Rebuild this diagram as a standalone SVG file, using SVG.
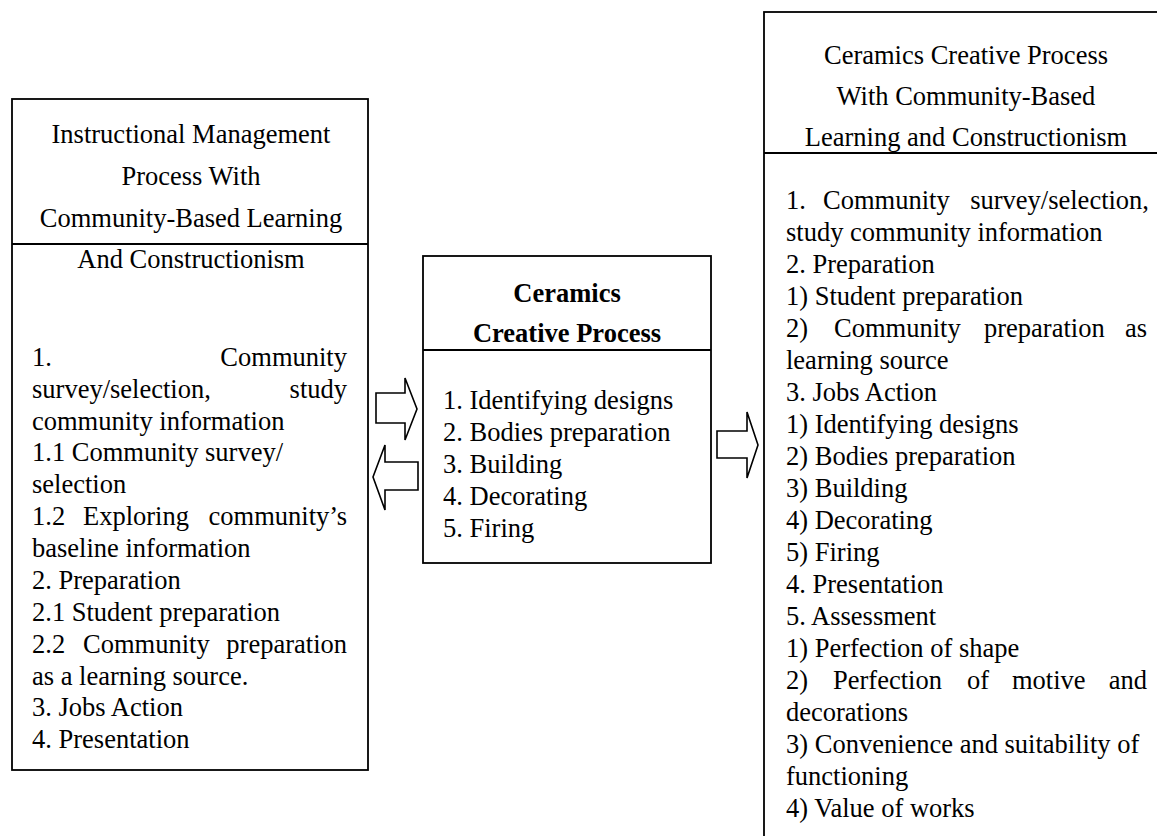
<svg xmlns="http://www.w3.org/2000/svg" width="1157" height="836" viewBox="0 0 1157 836">
<style>
text{font-family:"Liberation Serif","Times New Roman",serif;font-size:26.5px;fill:#000}
.c{text-anchor:middle}
.e{text-anchor:end}
.b{font-weight:bold}
.box{fill:none;stroke:#000;stroke-width:1.8}
.arrow{fill:#fff;stroke:#000;stroke-width:1.6;stroke-linejoin:miter}
</style>
<rect width="1157" height="836" fill="#fff"/>
<g id="node-left">
<rect class="box" x="12" y="99" width="356" height="671"/>
<line class="box" x1="12" y1="244" x2="368" y2="244"/>
<text class="c" x="191" y="143">Instructional Management</text>
<text class="c" x="191" y="185">Process With</text>
<text class="c" x="191" y="227">Community-Based Learning</text>
<text class="c" x="191" y="268">And Constructionism</text>
<text x="32" y="366">1.</text><text class="e" x="347" y="366">Community</text>
<text x="32" y="398">survey/selection,</text><text class="e" x="347" y="398">study</text>
<text x="32" y="430">community information</text>
<text x="32" y="461">1.1 Community survey/</text>
<text x="32" y="493">selection</text>
<text x="32" y="525">1.2</text><text x="83" y="525">Exploring</text><text class="e" x="347" y="525">community’s</text>
<text x="32" y="557">baseline information</text>
<text x="32" y="589">2. Preparation</text>
<text x="32" y="621">2.1 Student preparation</text>
<text x="32" y="653">2.2</text><text x="83" y="653">Community</text><text class="e" x="347" y="653">preparation</text>
<text x="32" y="685">as a learning source.</text>
<text x="32" y="716">3. Jobs Action</text>
<text x="32" y="748">4. Presentation</text>
</g>
<g id="node-middle">
<rect class="box" x="423" y="256" width="288" height="307"/>
<line class="box" x1="423" y1="350" x2="711" y2="350"/>
<text class="c b" x="567" y="302">Ceramics</text>
<text class="c b" x="567" y="342">Creative Process</text>
<text x="443" y="409">1. Identifying designs</text>
<text x="443" y="441">2. Bodies preparation</text>
<text x="443" y="473">3. Building</text>
<text x="443" y="505">4. Decorating</text>
<text x="443" y="537">5. Firing</text>
</g>
<g id="node-right">
<rect class="box" x="764" y="12" width="404" height="840"/>
<line class="box" x1="764" y1="153" x2="1168" y2="153"/>
<text class="c" x="966" y="64">Ceramics Creative Process</text>
<text class="c" x="966" y="105">With Community-Based</text>
<text class="c" x="966" y="146">Learning and Constructionism</text>
<text x="786" y="209">1.</text><text x="823" y="209">Community</text><text class="e" x="1149" y="209">survey/selection,</text>
<text x="786" y="241">study community information</text>
<text x="786" y="273">2. Preparation</text>
<text x="786" y="305">1) Student preparation</text>
<text x="786" y="337">2)</text><text x="834" y="337">Community</text><text x="984" y="337">preparation</text><text class="e" x="1147" y="337">as</text>
<text x="786" y="369">learning source</text>
<text x="786" y="401">3. Jobs Action</text>
<text x="786" y="433">1) Identifying designs</text>
<text x="786" y="465">2) Bodies preparation</text>
<text x="786" y="497">3) Building</text>
<text x="786" y="529">4) Decorating</text>
<text x="786" y="561">5) Firing</text>
<text x="786" y="593">4. Presentation</text>
<text x="786" y="625">5. Assessment</text>
<text x="786" y="657">1) Perfection of shape</text>
<text x="786" y="689">2)</text><text x="833" y="689">Perfection</text><text x="967" y="689">of</text><text x="1012" y="689">motive</text><text class="e" x="1147" y="689">and</text>
<text x="786" y="721">decorations</text>
<text x="786" y="753">3) Convenience and suitability of</text>
<text x="786" y="785">functioning</text>
<text x="786" y="817">4) Value of works</text>
</g>
<g id="connectors">
<polygon class="arrow" points="376,393 405,393 405,378 417,409 405,440 405,423 376,423"/>
<polygon class="arrow" points="418,462 385,462 385,445 373,477 385,510 385,490 418,490"/>
<polygon class="arrow" points="717,431 747,431 747,412 758,445 747,478 747,458 717,458"/>
</g>
</svg>
